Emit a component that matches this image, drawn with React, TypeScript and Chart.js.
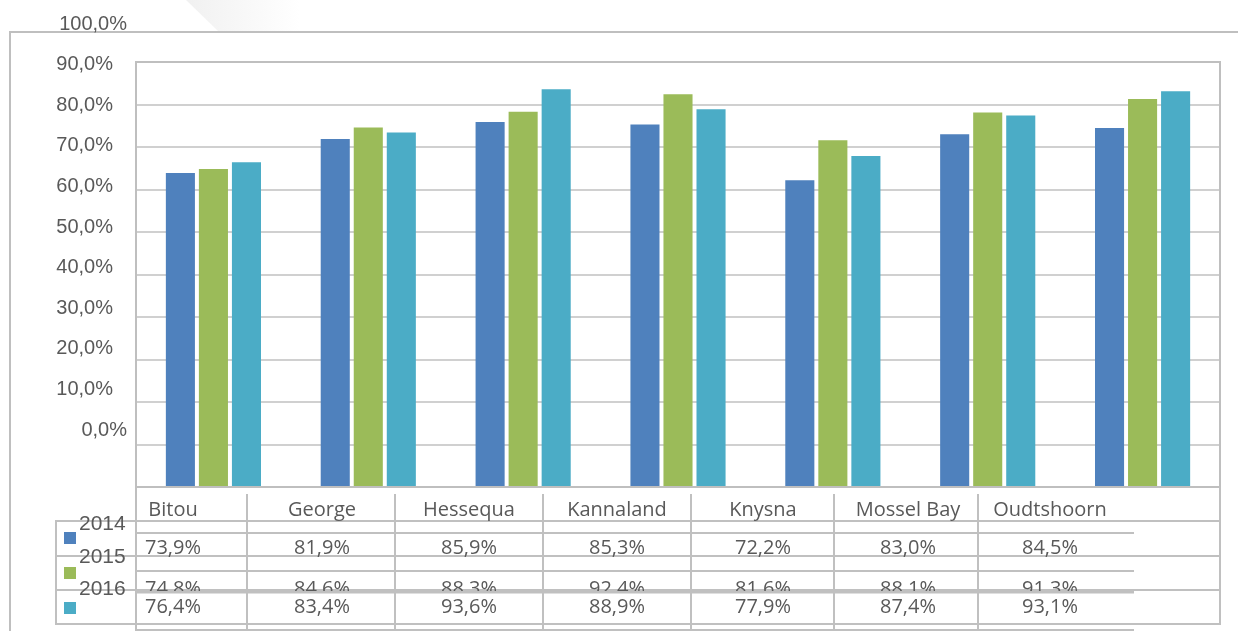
import React, { useEffect, useRef } from "react";
import { Chart, registerables } from "chart.js";

Chart.register(...registerables);

const categories = ["Bitou", "George", "Hessequa", "Kannaland", "Knysna", "Mossel Bay", "Oudtshoorn"];
const seriesLabels = ["2014", "2015", "2016"];
const values2014 = [73.9, 81.9, 85.9, 85.3, 72.2, 83.0, 84.5];
const values2015 = [74.8, 84.6, 88.3, 92.4, 81.6, 88.1, 91.3];
const values2016 = [76.4, 83.4, 93.6, 88.9, 77.9, 87.4, 93.1];
const yTickValues = [0, 10, 20, 30, 40, 50, 60, 70, 80, 90, 100];
const seriesColors = ["#4F81BD", "#9BBB59", "#4BACC6"];

const fmt = (v: number) => v.toFixed(1).replace(".", ",") + "%";

const TEXT = "#595959";
const LINE = "#c0c0c0";

const decorPlugin = {
  id: "decor",
  beforeDraw(chart: any) {
    const ctx = chart.ctx as CanvasRenderingContext2D;
    ctx.save();
    const g = ctx.createLinearGradient(190, 0, 300, 0);
    g.addColorStop(0, "#f1f1f1");
    g.addColorStop(1, "#ffffff");
    ctx.fillStyle = g;
    ctx.beginPath();
    ctx.moveTo(186, 0);
    ctx.lineTo(218, 31);
    ctx.lineTo(420, 31);
    ctx.lineTo(420, 0);
    ctx.closePath();
    ctx.fill();
    ctx.strokeStyle = "#bfbfbf";
    ctx.lineWidth = 2;
    ctx.beginPath();
    ctx.moveTo(10, 640);
    ctx.lineTo(10, 32);
    ctx.lineTo(1245, 32);
    ctx.stroke();
    ctx.restore();
  },
  afterDraw(chart: any) {
    const ctx = chart.ctx as CanvasRenderingContext2D;
    const area = chart.chartArea;
    const yScale = chart.scales.y;
    const hl = (y: number, x1: number, x2: number, w = 2, c = LINE) => {
      ctx.strokeStyle = c;
      ctx.lineWidth = w;
      ctx.beginPath();
      ctx.moveTo(x1, y);
      ctx.lineTo(x2, y);
      ctx.stroke();
    };
    const vl = (x: number, y1: number, y2: number, w = 2, c = LINE) => {
      ctx.strokeStyle = c;
      ctx.lineWidth = w;
      ctx.beginPath();
      ctx.moveTo(x, y1);
      ctx.lineTo(x, y2);
      ctx.stroke();
    };
    ctx.save();
    // plot border
    ctx.strokeStyle = "#bfbfbf";
    ctx.lineWidth = 2;
    ctx.strokeRect(area.left, area.top, area.right - area.left, area.bottom - area.top);
    vl(area.left, area.bottom, 640, 2, "#bfbfbf");

    // y labels (offset, as in the reference rendering)
    ctx.font = "20px 'Liberation Sans', Arial, sans-serif";
    ctx.fillStyle = TEXT;
    ctx.textAlign = "right";
    ctx.textBaseline = "middle";
    yTickValues.forEach((v) => {
      const yp = yScale.getPixelForValue(v) - 57 + v * 0.19;
      const x = v === 0 || v === 100 ? 127 : 113;
      ctx.fillText(fmt(v), x, yp);
    });

    // table B lines
    hl(533, area.left, 1134);
    hl(571, area.left, 1134);
    // table A (outer) lines
    hl(521, 56, area.right);
    hl(556, 56, area.right);
    hl(590, 56, area.right);
    hl(624, 56, area.right);
    vl(56, 520, 625);
    vl(area.right, area.bottom, 625);
    hl(592, area.left, 1134, 3);
    hl(630, area.left, 1134);
    const colLines = [247, 395, 543, 691, 834, 978];
    colLines.forEach((x) => vl(x, 494, 640));

    const colCenters = [173, 322, 469, 617, 763, 908, 1050];
    ctx.font = "20px 'Open Sans', sans-serif";
    ctx.textAlign = "center";
    ctx.fillStyle = TEXT;
    categories.forEach((c, i) => ctx.fillText(c, colCenters[i], 510));
    values2014.forEach((v, i) => ctx.fillText(fmt(v), colCenters[i], 548));
    ctx.save();
    ctx.beginPath();
    ctx.rect(area.left + 2, 560, 1100, 31);
    ctx.clip();
    values2015.forEach((v, i) => ctx.fillText(fmt(v), colCenters[i], 589));
    ctx.restore();
    values2016.forEach((v, i) => ctx.fillText(fmt(v), colCenters[i], 607));

    // legend
    const legY = [524, 557, 589];
    const sqY = [532, 567, 602];
    ctx.font = "21px 'Liberation Sans', Arial, sans-serif";
    ctx.textAlign = "left";
    seriesLabels.forEach((s, i) => {
      ctx.fillStyle = seriesColors[i];
      ctx.fillRect(64, sqY[i], 12, 12);
      ctx.fillStyle = TEXT;
      ctx.fillText(s, 79, legY[i]);
    });
    ctx.restore();
  },
};

export default function App() {
  const ref = useRef<HTMLCanvasElement | null>(null);
  useEffect(() => {
    document.body.style.margin = "0";
    document.body.style.overflow = "hidden";
    const canvas = ref.current;
    if (!canvas) return;
    const chart = new Chart(canvas, {
      type: "bar",
      data: {
        labels: categories,
        datasets: [values2014, values2015, values2016].map((d, i) => ({
          label: seriesLabels[i],
          data: d,
          backgroundColor: seriesColors[i],
          borderWidth: 0,
          categoryPercentage: 0.64,
          barPercentage: 0.88,
        })),
      },
      options: {
        responsive: false,
        animation: false,
        devicePixelRatio: 1,
        layout: { padding: { left: 136, top: 62, right: 18, bottom: 144 } },
        plugins: { legend: { display: false }, tooltip: { enabled: false } },
        scales: {
          x: { display: false, grid: { display: false } },
          y: {
            display: true,
            min: 0,
            max: 100,
            ticks: { display: false, stepSize: 10 },
            border: { display: false },
            grid: { drawTicks: false, color: "#d0d0d0", lineWidth: 2 },
          },
        },
      },
      plugins: [decorPlugin],
    });
    return () => chart.destroy();
  }, []);
  return <canvas ref={ref} width={1238} height={631} style={{ display: "block" }} />;
}
